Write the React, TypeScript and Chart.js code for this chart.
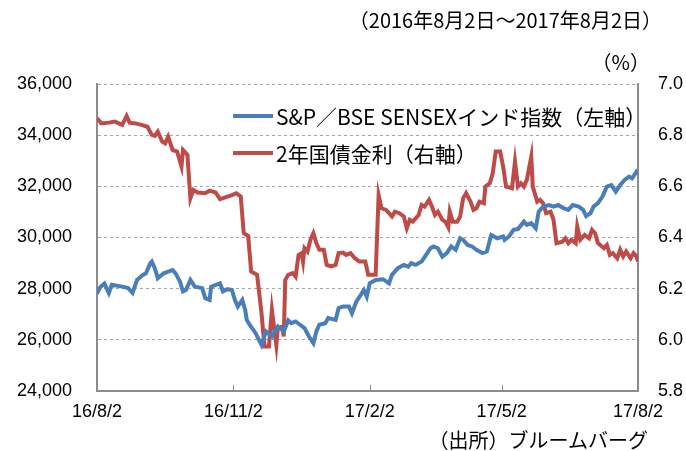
import React, { useEffect, useRef } from 'react';
import { Chart, registerables } from 'chart.js';

Chart.register(...registerables);

// x positions are days since 2016-08-02
const tickDays = [0, 92, 184, 273, 365];
const tickLabels = ['16/8/2', '16/11/2', '17/2/2', '17/5/2', '17/8/2'];

const sensexDays = [0, 2, 5, 8, 10, 17, 21, 24, 27, 31, 33, 36, 37, 39, 41, 45, 48, 51, 53, 56, 58, 60, 63, 66, 71, 73, 76, 77, 83, 85, 88, 91, 93, 95, 98, 100, 101, 103, 107, 111, 114, 118, 122, 126, 129, 131, 134, 137, 140, 143, 146, 148, 150, 154, 156, 161, 163, 166, 170, 172, 175, 178, 180, 182, 184, 188, 193, 197, 199, 203, 207, 210, 212, 215, 219, 222, 225, 227, 230, 233, 236, 239, 242, 245, 247, 250, 253, 256, 260, 263, 266, 270, 274, 275, 278, 281, 284, 288, 290, 293, 296, 298, 301, 305, 308, 311, 315, 318, 321, 325, 328, 330, 333, 335, 338, 341, 344, 347, 350, 353, 356, 359, 361, 364, 365];
const sensexValues = [27800, 28050, 28200, 27830, 28150, 28080, 28020, 27830, 28340, 28540, 28600, 29000, 29060, 28800, 28410, 28600, 28670, 28730, 28600, 28280, 27890, 27950, 28340, 28080, 28020, 27630, 27560, 28080, 28210, 27890, 27980, 27950, 27560, 27300, 27560, 27170, 26780, 26590, 26260, 25800, 26330, 26130, 26520, 26330, 26760, 26650, 26720, 26590, 26460, 26130, 25870, 26330, 26590, 26650, 26850, 26780, 27240, 27300, 27300, 27040, 27500, 27760, 27950, 27690, 28210, 28340, 28370, 28210, 28540, 28800, 28930, 28860, 29000, 28930, 29060, 29320, 29580, 29650, 29580, 29250, 29390, 29650, 29520, 29970, 29910, 29710, 29650, 29520, 29390, 29450, 30100, 29970, 30040, 29910, 30040, 30300, 30330, 30620, 30490, 30560, 30360, 31010, 31210, 31270, 31210, 31270, 31140, 31080, 31270, 31210, 31080, 30840, 30950, 31210, 31340, 31600, 31990, 32050, 31790, 32050, 32250, 32380, 32310, 32570, 32510];

const yieldDays = [0, 3, 8, 12, 17, 20, 22, 26, 30, 34, 37, 39, 41, 44, 46, 48, 51, 54, 57, 58, 61, 63, 65, 68, 73, 76, 80, 83, 88, 91, 94, 97, 99, 102, 104, 108, 111, 113, 116, 118, 121, 122, 125, 126, 127, 129, 132, 134, 136, 138, 139, 140, 142, 144, 146, 148, 150, 153, 155, 158, 161, 163, 166, 168, 171, 174, 177, 181, 183, 188, 190, 192, 195, 197, 199, 201, 204, 207, 209, 211, 213, 217, 219, 221, 224, 226, 228, 230, 233, 235, 237, 238, 240, 243, 245, 247, 249, 252, 254, 256, 258, 261, 262, 265, 267, 269, 272, 274, 276, 280, 282, 284, 286, 288, 290, 293, 294, 297, 299, 301, 303, 306, 308, 310, 314, 316, 318, 320, 323, 324, 326, 329, 332, 334, 336, 338, 342, 344, 346, 348, 351, 353, 355, 357, 360, 362, 364, 365];
const yieldValues = [6.866, 6.846, 6.849, 6.853, 6.84, 6.875, 6.849, 6.846, 6.84, 6.833, 6.801, 6.797, 6.814, 6.775, 6.768, 6.794, 6.742, 6.736, 6.677, 6.742, 6.723, 6.553, 6.586, 6.576, 6.573, 6.583, 6.576, 6.55, 6.56, 6.566, 6.573, 6.56, 6.417, 6.406, 6.267, 6.254, 6.104, 5.974, 5.974, 6.117, 5.98, 6.046, 6.052, 6.013, 6.234, 6.254, 6.261, 6.247, 6.332, 6.339, 6.306, 6.358, 6.345, 6.391, 6.417, 6.378, 6.352, 6.352, 6.293, 6.287, 6.293, 6.339, 6.341, 6.332, 6.339, 6.319, 6.306, 6.306, 6.254, 6.254, 6.566, 6.514, 6.508, 6.495, 6.482, 6.501, 6.495, 6.482, 6.436, 6.469, 6.462, 6.488, 6.527, 6.521, 6.547, 6.521, 6.488, 6.501, 6.469, 6.462, 6.44, 6.501, 6.462, 6.462, 6.482, 6.553, 6.573, 6.54, 6.508, 6.514, 6.54, 6.534, 6.599, 6.612, 6.651, 6.736, 6.736, 6.677, 6.599, 6.593, 6.697, 6.599, 6.612, 6.599, 6.625, 6.716, 6.599, 6.54, 6.547, 6.534, 6.495, 6.501, 6.469, 6.378, 6.384, 6.397, 6.378, 6.391, 6.378, 6.443, 6.391, 6.41, 6.397, 6.43, 6.417, 6.378, 6.358, 6.371, 6.332, 6.339, 6.319, 6.352, 6.326, 6.345, 6.319, 6.339, 6.326, 6.306];

const seriesNames = ['S&P／BSE SENSEXインド指数（左軸）', '2年国債金利（右軸）'];
const titleText = '（2016年8月2日～2017年8月2日）';
const unitText = '（%）';
const sourceText = '（出所）ブルームバーグ';

const BLUE = '#4A7EBB';
const RED = '#BE4B48';
const NUM_FONT = "'Liberation Sans', Arial, sans-serif";
const JP_FONT = "'Noto Sans CJK JP', 'Noto Sans', sans-serif";

const innerTicks = {
  id: 'innerTicks',
  afterDraw(chart: any) {
    const xs = chart.scales.x;
    const ctx = chart.ctx;
    const bottom = chart.chartArea.bottom;
    ctx.save();
    ctx.strokeStyle = '#8c8c8c';
    ctx.lineWidth = 1;
    xs.ticks.forEach((t: any) => {
      const px = Math.round(xs.getPixelForValue(t.value)) + 0.5;
      ctx.beginPath();
      ctx.moveTo(px, bottom);
      ctx.lineTo(px, bottom - 6);
      ctx.stroke();
    });
    ctx.restore();
  },
};

export default function App() {
  const ref = useRef<HTMLCanvasElement | null>(null);
  useEffect(() => {
    if (!ref.current) return;
    const chart = new Chart(ref.current, {
      type: 'line',
      data: {
        datasets: [
          {
            label: seriesNames[0],
            data: sensexDays.map((d, i) => ({ x: d, y: sensexValues[i] })),
            borderColor: BLUE,
            borderWidth: 4,
            pointRadius: 0,
            tension: 0,
            yAxisID: 'y',
          },
          {
            label: seriesNames[1],
            data: yieldDays.map((d, i) => ({ x: d, y: yieldValues[i] })),
            borderColor: RED,
            borderWidth: 4,
            pointRadius: 0,
            tension: 0,
            yAxisID: 'y1',
          },
        ],
      },
      options: {
        responsive: false,
        animation: false,
        layout: { padding: { top: 84, left: 0, right: 0, bottom: 0 } },
        plugins: { legend: { display: false }, tooltip: { enabled: false } },
        scales: {
          x: {
            type: 'linear',
            min: 0,
            max: 365,
            afterBuildTicks: (s: any) => {
              s.ticks = tickDays.map((v) => ({ value: v }));
            },
            afterFit: (s: any) => {
              s.height = 60;
            },
            ticks: {
              autoSkip: false,
              maxRotation: 0,
              padding: 10,
              color: '#000',
              font: { family: NUM_FONT, size: 18 },
              callback: (v: any) => {
                const i = tickDays.indexOf(Number(v));
                return i >= 0 ? tickLabels[i] : '';
              },
            },
            grid: { display: false, drawTicks: false },
            border: { display: true, color: '#8c8c8c', width: 2 },
          },
          y: {
            position: 'left',
            min: 24000,
            max: 36000,
            afterFit: (s: any) => {
              s.width = 97;
            },
            ticks: {
              stepSize: 2000,
              padding: 25,
              color: '#000',
              font: { family: NUM_FONT, size: 18 },
              callback: (v: any) => Number(v).toLocaleString('en-US'),
            },
            grid: { color: '#a6a6a6', lineWidth: 1, drawTicks: false },
            border: { display: true, color: '#8c8c8c', width: 2, dash: [3, 3] },
          },
          y1: {
            position: 'right',
            min: 5.8,
            max: 7.0,
            afterFit: (s: any) => {
              s.width = 48;
            },
            ticks: {
              stepSize: 0.2,
              padding: 20,
              color: '#000',
              font: { family: NUM_FONT, size: 18 },
              callback: (v: any) => Number(v).toFixed(1),
            },
            grid: { drawOnChartArea: false, drawTicks: false },
            border: { display: true, color: '#8c8c8c', width: 2 },
          },
        },
      },
      plugins: [innerTicks],
    } as any);
    return () => chart.destroy();
  }, []);

  const textBase: React.CSSProperties = {
    position: 'absolute',
    fontFamily: JP_FONT,
    fontSize: 20,
    lineHeight: '22px',
    color: '#000',
    whiteSpace: 'nowrap',
  };

  return (
    <div style={{ position: 'fixed', left: 0, top: 0, width: 686, height: 451, background: '#fff' }}>
      <canvas ref={ref} width={686} height={451} style={{ display: 'block', width: 686, height: 451 }} />
      <div style={{ ...textBase, right: 24, top: 9 }}>{titleText}</div>
      <div style={{ ...textBase, right: 36, top: 51 }}>{unitText}</div>
      <div style={{ ...textBase, right: 38, top: 429 }}>{sourceText}</div>
      <div style={{ position: 'absolute', left: 233, top: 114, width: 40, height: 4, background: BLUE }} />
      <div style={{ ...textBase, fontSize: 21, left: 276, top: 105 }}>{seriesNames[0]}</div>
      <div style={{ position: 'absolute', left: 233, top: 151, width: 40, height: 4, background: RED }} />
      <div style={{ ...textBase, fontSize: 21, left: 276, top: 142 }}>{seriesNames[1]}</div>
    </div>
  );
}
